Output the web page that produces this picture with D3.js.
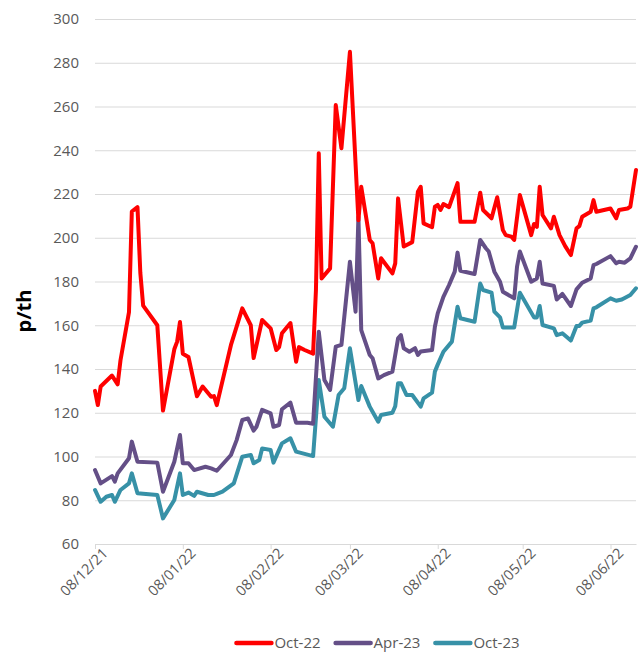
<!DOCTYPE html>
<html>
<head>
<meta charset="utf-8">
<script src="https://cdn.jsdelivr.net/npm/d3@7"></script>
<style>
  body { margin: 0; background: #fff; }
  svg text { font-family: "Open Sans", sans-serif; }
</style>
</head>
<body>
<div id="chart"></div>
<script>

// Forward prices (p/th), one array per contract
var oct22 = [
  ["2021-12-08", 130], ["2021-12-09", 123.5], ["2021-12-10", 132], ["2021-12-14", 137],
  ["2021-12-16", 133], ["2021-12-17", 144], ["2021-12-20", 166], ["2021-12-21", 212],
  ["2021-12-23", 214], ["2021-12-24", 184], ["2021-12-25", 169], ["2021-12-30", 160],
  ["2022-01-01", 121], ["2022-01-05", 149], ["2022-01-06", 152.5], ["2022-01-07", 161.5],
  ["2022-01-08", 147], ["2022-01-10", 145.5], ["2022-01-13", 127.5], ["2022-01-15", 132],
  ["2022-01-18", 127.3], ["2022-01-19", 127.6], ["2022-01-20", 123.5], ["2022-01-25", 151],
  ["2022-01-29", 167.7], ["2022-02-01", 160], ["2022-02-02", 145], ["2022-02-05", 162.4],
  ["2022-02-08", 158.6], ["2022-02-10", 148.7], ["2022-02-11", 150], ["2022-02-12", 156.3],
  ["2022-02-15", 161], ["2022-02-17", 143.3], ["2022-02-18", 150], ["2022-02-20", 148.7],
  ["2022-02-23", 147], ["2022-02-24", 176], ["2022-02-25", 238.6], ["2022-02-26", 181.4],
  ["2022-03-01", 186], ["2022-03-03", 260.7], ["2022-03-05", 240.9], ["2022-03-08", 285],
  ["2022-03-11", 208], ["2022-03-12", 223.3], ["2022-03-15", 199], ["2022-03-16", 197.5],
  ["2022-03-18", 181.4], ["2022-03-19", 190.6], ["2022-03-23", 183.7], ["2022-03-24", 188.3],
  ["2022-03-25", 218], ["2022-03-27", 196], ["2022-03-30", 198], ["2022-04-01", 221],
  ["2022-04-02", 223.3], ["2022-04-03", 206.6], ["2022-04-06", 204.8], ["2022-04-07", 214.2],
  ["2022-04-08", 215], ["2022-04-09", 212.7], ["2022-04-10", 215.4], ["2022-04-12", 214],
  ["2022-04-15", 225], ["2022-04-16", 207.3], ["2022-04-21", 207.3], ["2022-04-23", 220.6],
  ["2022-04-24", 212.7], ["2022-04-27", 208.9], ["2022-04-29", 218.5], ["2022-05-01", 203.5],
  ["2022-05-02", 201.2], ["2022-05-04", 200.5], ["2022-05-05", 199], ["2022-05-07", 219.5],
  ["2022-05-11", 201.2], ["2022-05-12", 206.3], ["2022-05-13", 205], ["2022-05-14", 223.3],
  ["2022-05-15", 210.4], ["2022-05-18", 204.3], ["2022-05-19", 209.6], ["2022-05-21", 201.2],
  ["2022-05-23", 196.2], ["2022-05-25", 192.1], ["2022-05-27", 204.3], ["2022-05-28", 205.3],
  ["2022-05-29", 209.6], ["2022-06-01", 211.9], ["2022-06-02", 217.2], ["2022-06-03", 211.9],
  ["2022-06-08", 213.4], ["2022-06-10", 208.9], ["2022-06-11", 212.7], ["2022-06-14", 213.4],
  ["2022-06-15", 214.2], ["2022-06-17", 231]
];

var apr23 = [
  ["2021-12-08", 93.8], ["2021-12-10", 87.7], ["2021-12-14", 91], ["2021-12-15", 88.5],
  ["2021-12-16", 92.3], ["2021-12-20", 99.2], ["2021-12-21", 106.8], ["2021-12-23", 97.6],
  ["2021-12-30", 97.2], ["2022-01-01", 83.9], ["2022-01-05", 97.6], ["2022-01-07", 109.8],
  ["2022-01-08", 96.9], ["2022-01-10", 96.9], ["2022-01-12", 93.8], ["2022-01-16", 95.3],
  ["2022-01-18", 94.6], ["2022-01-20", 93.5], ["2022-01-25", 100.7], ["2022-01-27", 107.5],
  ["2022-01-29", 116.7], ["2022-01-31", 117.4], ["2022-02-02", 111.8], ["2022-02-03", 113.6],
  ["2022-02-05", 121.3], ["2022-02-08", 119.7], ["2022-02-09", 113.6], ["2022-02-11", 114.4],
  ["2022-02-12", 121.6], ["2022-02-15", 124.6], ["2022-02-17", 115.4], ["2022-02-21", 115.4],
  ["2022-02-23", 115], ["2022-02-25", 157], ["2022-02-27", 135], ["2022-03-01", 130.4],
  ["2022-03-03", 150.2], ["2022-03-05", 151], ["2022-03-08", 189], ["2022-03-10", 166.2],
  ["2022-03-11", 209.6], ["2022-03-12", 157.8], ["2022-03-15", 146.4], ["2022-03-16", 144.9],
  ["2022-03-18", 135.7], ["2022-03-20", 137.2], ["2022-03-23", 138.8], ["2022-03-25", 154],
  ["2022-03-26", 155.5], ["2022-03-27", 149.5], ["2022-03-29", 147.9], ["2022-03-31", 149.5],
  ["2022-04-01", 146.4], ["2022-04-02", 148], ["2022-04-06", 148.7], ["2022-04-07", 159.3],
  ["2022-04-08", 165.4], ["2022-04-10", 173], ["2022-04-12", 178.4], ["2022-04-14", 184.5],
  ["2022-04-15", 193.2], ["2022-04-16", 184.9], ["2022-04-21", 183.4], ["2022-04-23", 199],
  ["2022-04-25", 195.2], ["2022-04-26", 193.7], ["2022-04-28", 184.5], ["2022-04-30", 179.9],
  ["2022-05-01", 175.3], ["2022-05-05", 172.3], ["2022-05-06", 186.8], ["2022-05-07", 193.7],
  ["2022-05-11", 179.9], ["2022-05-13", 181.4], ["2022-05-14", 189], ["2022-05-15", 179.1],
  ["2022-05-19", 178], ["2022-05-20", 171.8], ["2022-05-22", 174.3], ["2022-05-25", 168.8],
  ["2022-05-27", 176.4], ["2022-05-29", 179.4], ["2022-06-01", 181.4], ["2022-06-02", 187.5],
  ["2022-06-03", 188], ["2022-06-08", 191.6], ["2022-06-10", 188.3], ["2022-06-11", 189],
  ["2022-06-13", 188.6], ["2022-06-15", 190.6], ["2022-06-17", 195.9]
];

var oct23 = [
  ["2021-12-08", 84.7], ["2021-12-10", 79.3], ["2021-12-12", 81.6], ["2021-12-14", 82.4],
  ["2021-12-15", 79.3], ["2021-12-17", 84.7], ["2021-12-20", 87.7], ["2021-12-21", 92.3],
  ["2021-12-23", 83.2], ["2021-12-30", 82.4], ["2022-01-01", 71.7], ["2022-01-05", 80.1],
  ["2022-01-07", 92.3], ["2022-01-08", 82.4], ["2022-01-10", 83.5], ["2022-01-12", 82],
  ["2022-01-13", 83.9], ["2022-01-17", 82.4], ["2022-01-19", 82.4], ["2022-01-20", 82.9],
  ["2022-01-22", 83.9], ["2022-01-26", 87.7], ["2022-01-29", 99.9], ["2022-02-01", 100.7],
  ["2022-02-02", 96.9], ["2022-02-04", 98.4], ["2022-02-05", 103.7], ["2022-02-08", 103],
  ["2022-02-09", 97.2], ["2022-02-12", 106], ["2022-02-15", 108.3], ["2022-02-17", 102.2],
  ["2022-02-23", 100.2], ["2022-02-25", 135], ["2022-02-27", 118.2], ["2022-03-02", 113.6],
  ["2022-03-04", 128.1], ["2022-03-06", 131.2], ["2022-03-08", 149.5], ["2022-03-11", 125.8],
  ["2022-03-12", 132.2], ["2022-03-15", 122.8], ["2022-03-16", 120.5], ["2022-03-18", 115.9],
  ["2022-03-19", 119], ["2022-03-23", 120], ["2022-03-24", 123], ["2022-03-25", 133.5],
  ["2022-03-26", 133.5], ["2022-03-28", 128.1], ["2022-03-30", 128.1], ["2022-04-02", 122.8],
  ["2022-04-03", 126.6], ["2022-04-06", 129.2], ["2022-04-07", 138.8], ["2022-04-08", 142],
  ["2022-04-10", 147.9], ["2022-04-13", 152.5], ["2022-04-15", 168.5], ["2022-04-16", 163.2],
  ["2022-04-21", 161.6], ["2022-04-23", 179.1], ["2022-04-24", 176.1], ["2022-04-27", 174.9],
  ["2022-04-28", 166.2], ["2022-04-30", 163.6], ["2022-05-01", 159], ["2022-05-05", 159],
  ["2022-05-07", 174.9], ["2022-05-12", 163.6], ["2022-05-13", 163.6], ["2022-05-14", 168.8],
  ["2022-05-15", 160.1], ["2022-05-19", 158.6], ["2022-05-20", 155.5], ["2022-05-22", 156.3],
  ["2022-05-25", 153], ["2022-05-27", 159.7], ["2022-05-28", 159.7], ["2022-05-29", 161.2],
  ["2022-06-01", 162.1], ["2022-06-02", 167.7], ["2022-06-03", 168.2], ["2022-06-08", 172.3],
  ["2022-06-10", 171.2], ["2022-06-12", 171.8], ["2022-06-15", 173.8], ["2022-06-17", 176.9]
];

var seriesNames = ["Oct-22", "Apr-23", "Oct-23"];
var seriesColors = ["#ff0000", "#644f87", "#3791a7"];
var xTickDates = ["2021-12-08", "2022-01-08", "2022-02-08", "2022-03-08", "2022-04-08", "2022-05-08", "2022-06-08"];
var yTicks = [60, 80, 100, 120, 140, 160, 180, 200, 220, 240, 260, 280, 300];

var svgWidth = 638;
var svgHeight = 652;

var margin = { top: 19, right: 2, bottom: 108, left: 95 };
var width = svgWidth - margin.left - margin.right;
var height = svgHeight - margin.top - margin.bottom;

var parseDate = d3.timeParse("%Y-%m-%d");
var formatTick = d3.timeFormat("%d/%m/%y");

var allSeries = [oct22, apr23, oct23].map(function (rows, i) {
  return {
    name: seriesNames[i],
    color: seriesColors[i],
    values: rows.map(function (r) { return { date: parseDate(r[0]), value: r[1] }; })
  };
});

var svg = d3.select("#chart")
  .append("svg")
  .attr("width", svgWidth)
  .attr("height", svgHeight);

var chartGroup = svg.append("g")
  .attr("transform", `translate(${margin.left}, ${margin.top})`);

// scales
var xTimeScale = d3.scaleTime()
  .domain([parseDate("2021-12-08"), parseDate("2022-06-17")])
  .range([0, width]);

var yLinearScale = d3.scaleLinear()
  .domain([60, 300])
  .range([height, 0]);

// horizontal gridlines + y labels
var leftAxis = d3.axisLeft(yLinearScale)
  .tickValues(yTicks)
  .tickSize(-width)
  .tickPadding(16);

var yAxis = chartGroup.append("g").call(leftAxis);
yAxis.select(".domain").remove();
yAxis.selectAll("line").attr("stroke", "#d9d9d9").attr("stroke-width", 1);
yAxis.selectAll("text")
  .attr("fill", "#595959")
  .style("font-size", "15px");

// bottom axis with rotated date labels
var bottomAxis = d3.axisBottom(xTimeScale)
  .tickValues(xTickDates.map(parseDate))
  .tickFormat(formatTick)
  .tickSize(5)
  .tickSizeOuter(0);

var xAxis = chartGroup.append("g")
  .attr("transform", `translate(0, ${height})`)
  .call(bottomAxis);

xAxis.select(".domain").attr("stroke", "#d9d9d9");
xAxis.selectAll("line").attr("stroke", "#d9d9d9");
xAxis.selectAll("text")
  .attr("fill", "#595959")
  .style("font-size", "14.5px")
  .style("text-anchor", "end")
  .attr("dx", "0.15em")
  .attr("dy", "0.6em")
  .attr("transform", "rotate(-45)");

// lines
var line = d3.line()
  .x(d => xTimeScale(d.date))
  .y(d => yLinearScale(d.value));

chartGroup.selectAll(".series")
  .data(allSeries.slice().reverse())
  .enter()
  .append("path")
  .attr("class", "series")
  .attr("d", d => line(d.values))
  .attr("fill", "none")
  .attr("stroke", d => d.color)
  .attr("stroke-width", 4)
  .attr("stroke-linejoin", "round")
  .attr("stroke-linecap", "round");

// y axis title
svg.append("text")
  .attr("transform", "translate(31, 311) rotate(-90)")
  .style("text-anchor", "middle")
  .style("font-size", "20px")
  .style("font-weight", "bold")
  .attr("fill", "#000")
  .text("p/th");

// legend, laid out left to right then centred under the plot
var legendGroup = svg.append("g");
var cursor = 0;
allSeries.forEach(function (s) {
  legendGroup.append("line")
    .attr("x1", cursor + 2).attr("x2", cursor + 37)
    .attr("y1", 0).attr("y2", 0)
    .attr("stroke", s.color)
    .attr("stroke-width", 4.5)
    .attr("stroke-linecap", "round");
  var label = legendGroup.append("text")
    .attr("x", cursor + 40)
    .attr("y", 0)
    .attr("dy", "0.35em")
    .attr("fill", "#595959")
    .style("font-size", "15px")
    .text(s.name);
  cursor += 40 + label.node().getComputedTextLength() + 13;
});
cursor -= 13;
legendGroup.attr("transform", `translate(${377 - cursor / 2}, 643)`);

</script>
</body>
</html>
